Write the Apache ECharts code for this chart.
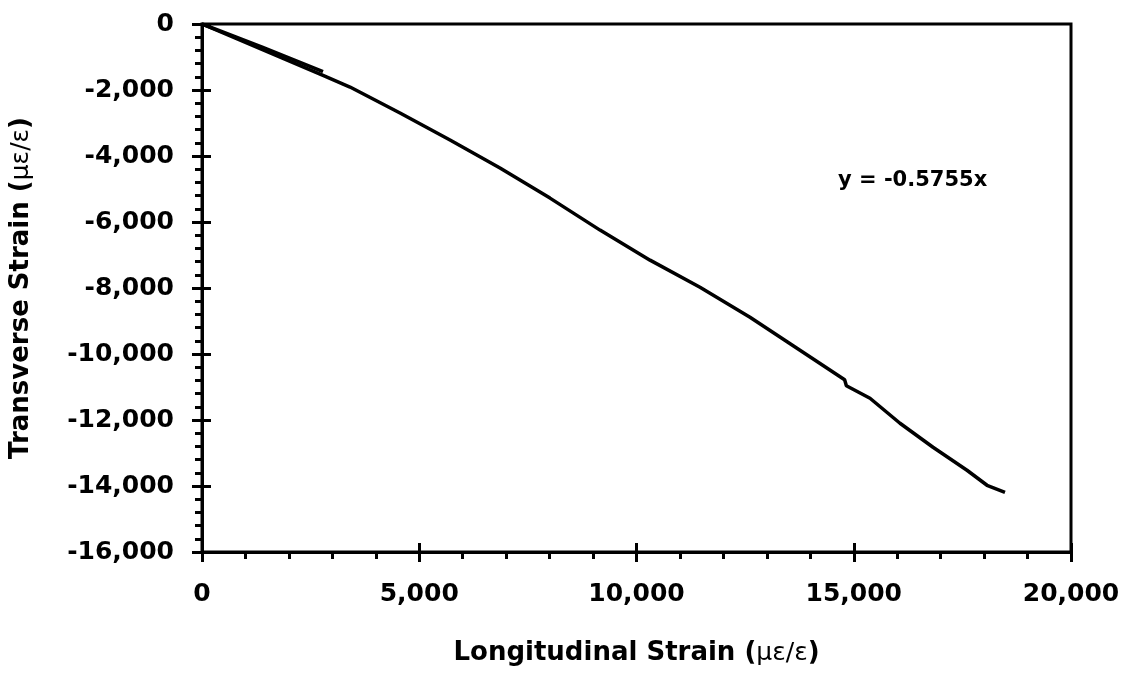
<!DOCTYPE html>
<html>
<head>
<meta charset="utf-8">
<script src="https://cdn.jsdelivr.net/npm/echarts@6/dist/echarts.min.js"></script>
<style>
html,body{margin:0;padding:0;background:#fff;}
#chart{width:1126px;height:675px;}
</style>
</head>
<body>
<div id="chart"></div>
<script>
// Data
const longitudinal = [0, 2785, 3406, 4557, 5708, 6858, 8009, 9160, 10311, 11461, 12612, 13763, 14790, 14820, 14830, 15374, 16064, 16824, 17606, 18067, 18481];
const transverse   = [0, -1560, -1910, -2699, -3517, -4366, -5276, -6246, -7156, -7975, -8884, -9885, -10780, -10720, -10960, -11340, -12098, -12826, -13523, -13978, -14190];
// second (overlapping) trace near the origin
const cycleLongitudinal = [0, 1400, 2785];
const cycleTransverse   = [0, -710, -1440];
const equationLabel = 'y = -0.5755x';
const xTitle = 'Longitudinal Strain ({g|με/ε})';
const yTitle = 'Transverse Strain ({g|με/ε})';

const FONT = 'DejaVu Sans';
const mainPts = longitudinal.map((x, i) => [x, transverse[i]]);
const cyclePts = cycleLongitudinal.map((x, i) => [x, cycleTransverse[i]]);
const fmt = v => v.toLocaleString('en-US');

const chart = echarts.init(document.getElementById('chart'));
const gridBox = {left: 202, right: 55, top: 24, bottom: 123};
const baseX = {type: 'value', min: 0, max: 20000, interval: 5000, position: 'bottom', splitLine: {show: false}};
const baseY = {type: 'value', min: -16000, max: 0, interval: 2000, position: 'left', splitLine: {show: false}};
const titleStyle = {color: '#000', fontFamily: FONT, fontWeight: 'bold', fontSize: 26,
  rich: {g: {color: '#000', fontFamily: FONT, fontWeight: 'normal', fontSize: 25}}};
chart.setOption({
  animation: false,
  backgroundColor: '#fff',
  grid: [
    Object.assign({show: true, borderColor: '#000', borderWidth: 3, backgroundColor: 'transparent'}, gridBox),
    Object.assign({show: false}, gridBox)
  ],
  xAxis: [
    Object.assign({}, baseX, {
      gridIndex: 0,
      axisLine: {show: true, onZero: false, lineStyle: {color: '#000', width: 3}},
      axisTick: {show: true, inside: false, length: 10, lineStyle: {color: '#000', width: 3}},
      minorTick: {show: true, splitNumber: 5, length: 7, lineStyle: {color: '#000', width: 3}},
      axisLabel: {color: '#000', fontFamily: FONT, fontWeight: 'bold', fontSize: 25, margin: 30, formatter: fmt},
      name: xTitle, nameLocation: 'middle', nameGap: 88, nameTextStyle: titleStyle
    }),
    Object.assign({}, baseX, {
      gridIndex: 1,
      axisLine: {show: false, onZero: false},
      axisTick: {show: true, inside: true, length: 9, lineStyle: {color: '#000', width: 3}},
      axisLabel: {show: false}
    })
  ],
  yAxis: [
    Object.assign({}, baseY, {
      gridIndex: 0,
      axisLine: {show: true, onZero: false, lineStyle: {color: '#000', width: 3}},
      axisTick: {show: true, inside: false, length: 10, lineStyle: {color: '#000', width: 3}},
      minorTick: {show: true, splitNumber: 5, length: 7, lineStyle: {color: '#000', width: 3}},
      axisLabel: {color: '#000', fontFamily: FONT, fontWeight: 'bold', fontSize: 25, margin: 28, formatter: fmt},
      name: yTitle, nameLocation: 'middle', nameGap: 168, nameTextStyle: titleStyle
    }),
    Object.assign({}, baseY, {
      gridIndex: 1,
      axisLine: {show: false, onZero: false},
      axisTick: {show: true, inside: true, length: 9, lineStyle: {color: '#000', width: 3}},
      axisLabel: {show: false}
    })
  ],
  series: [
    {type: 'line', xAxisIndex: 0, yAxisIndex: 0, data: mainPts, showSymbol: false, symbol: 'none',
     lineStyle: {color: '#000', width: 3.5}, z: 5},
    {type: 'line', xAxisIndex: 0, yAxisIndex: 0, data: cyclePts, showSymbol: false, symbol: 'none',
     lineStyle: {color: '#000', width: 3.5}, z: 5}
  ],
  graphic: [{
    type: 'text', left: 838, top: 170,
    style: {text: equationLabel, fill: '#000', font: 'bold 21px "DejaVu Sans"'}
  }]
});
</script>
</body>
</html>
